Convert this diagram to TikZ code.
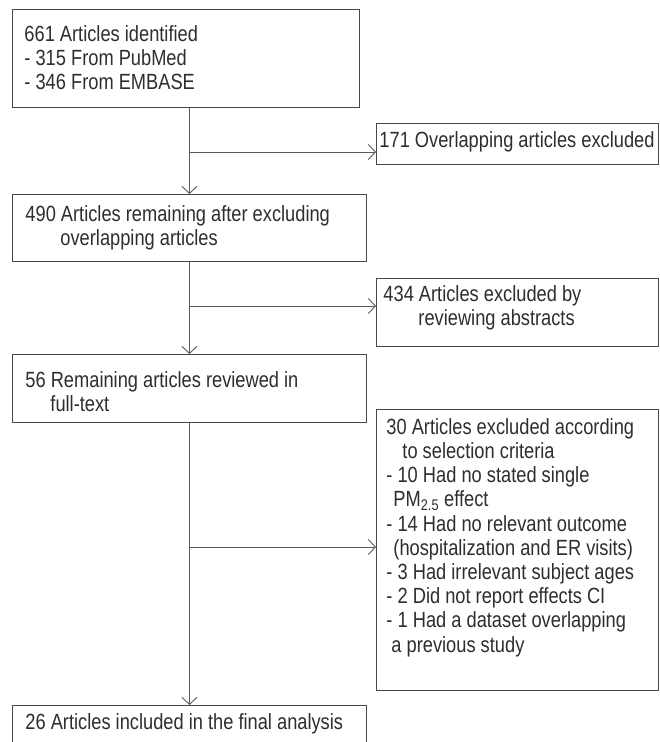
\documentclass[tikz,border=0pt]{standalone}
\usepackage{fontspec}
\setmainfont{Liberation Sans}[FakeStretch=0.83]
\usetikzlibrary{arrows.meta}
\newcommand\boxtext[4]{\parbox[c][#2][t]{#1}{\vspace*{#3}#4}}
\newcommand\Lline[2]{\hspace*{#1}#2\par}
\tikzset{
  fbox/.style={draw=black!72, line width=0.9pt, inner sep=0pt, anchor=north west,
    font=\fontsize{22}{24.2}\selectfont, text=black!82},
  arr/.style={draw=black!65, line width=0.9pt, -{Straight Barb[length=7pt,width=15pt,line width=0.9pt]}},
  ln/.style={draw=black!65, line width=0.9pt}
}
\begin{document}
\begin{tikzpicture}[x=1pt,y=-1pt]
\useasboundingbox (0,0) rectangle (659,742);
\clip (0,0) rectangle (659,742);
\fill[white] (0,0) rectangle (659,742);

\node[fbox] (b1) at (12,9) {\boxtext{347pt}{98pt}{16pt}{%
  \Lline{12pt}{661 Articles identified}%
  \Lline{12pt}{- 315 From PubMed}%
  \Lline{12pt}{- 346 From EMBASE}}};

\node[fbox] (b2) at (376,123) {\boxtext{282pt}{41pt}{8pt}{%
  \Lline{3pt}{171 Overlapping articles excluded}}};

\node[fbox] (b3) at (12,194) {\boxtext{354pt}{67pt}{11pt}{%
  \Lline{13pt}{490 Articles remaining after excluding}%
  \Lline{48pt}{overlapping articles}}};

\node[fbox] (b4) at (376,278) {\boxtext{282pt}{68pt}{7pt}{%
  \Lline{7pt}{434 Articles excluded by}%
  \Lline{42pt}{reviewing abstracts}}};

\node[fbox] (b5) at (12,354) {\boxtext{354pt}{68pt}{17pt}{%
  \Lline{13pt}{56 Remaining articles reviewed in}%
  \Lline{38pt}{full-text}}};

\node[fbox] (b6) at (376,409) {\boxtext{282pt}{281pt}{9pt}{%
  \Lline{10pt}{30 Articles excluded according}%
  \Lline{26pt}{to selection criteria}%
  \Lline{10pt}{- 10 Had no stated single}%
  \Lline{17pt}{PM\textsubscript{2.5} effect}%
  \Lline{10pt}{- 14 Had no relevant outcome}%
  \Lline{17pt}{(hospitalization and ER visits)}%
  \Lline{10pt}{- 3 Had irrelevant subject ages}%
  \Lline{10pt}{- 2 Did not report effects CI}%
  \Lline{10pt}{- 1 Had a dataset overlapping}%
  \Lline{15pt}{a previous study}}};

\node[fbox] (b7) at (12,705) {\boxtext{354pt}{50pt}{8pt}{%
  \Lline{13pt}{26 Articles included in the final analysis}}};

\coordinate (j1) at (b3.north |- 0,152);
\coordinate (j2) at (b3.north |- 0,306);
\coordinate (j3) at (b3.north |- 0,547);

\draw[arr] (b1.south -| b3.north) -- (b3.north);
\draw[arr] (b3.south) -- (b5.north);
\draw[arr] (b5.south) -- (b7.north);
\draw[arr] (j1) -- (j1 -| b2.west);
\draw[arr] (j2) -- (j2 -| b4.west);
\draw[arr] (j3) -- (j3 -| b6.west);
\end{tikzpicture}
\end{document}
